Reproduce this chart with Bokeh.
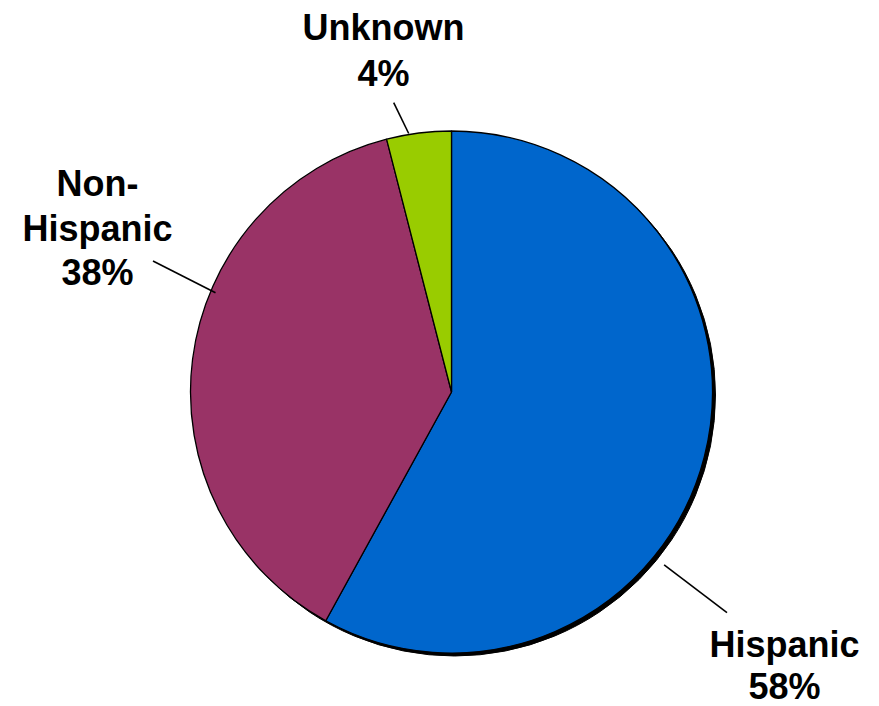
import math
from bokeh.plotting import figure
from bokeh.models import ColumnDataSource
from bokeh.core.properties import value
from bokeh.embed import file_html
from bokeh.resources import INLINE

categories = ["Hispanic", "Non-Hispanic", "Unknown"]
values = [58, 38, 4]
colors = ["#0066CC", "#993366", "#99CC00"]
label_lines = [["Hispanic", "58%"], ["Non-", "Hispanic", "38%"], ["Unknown", "4%"]]

W, H = 879, 706
def px(x):
    return x
def py(y):
    return H - y

cx, cy, R = px(451), py(391.5), 261

p = figure(width=W, height=H, x_range=(0, W), y_range=(0, H),
           output_backend="svg", toolbar_location=None, min_border=0)
p.axis.visible = False
p.grid.visible = False
p.outline_line_color = None

total = sum(values)
starts, ends = [], []
a = math.pi / 2
for v in values:
    e = a - v / total * 2 * math.pi
    starts.append(e)
    ends.append(a)
    a = e

src = ColumnDataSource(dict(start=starts, end=ends, color=colors, cat=categories))

# shadow
p.circle(x=[cx + 3], y=[cy - 3], radius=R, fill_color="black", line_color="black")
p.wedge(x=cx, y=cy, radius=R, start_angle="start", end_angle="end",
        fill_color="color", line_color="black", line_width=1.3, source=src)

# leader lines (polar layout: angle deg, radius start, angle deg, radius end)
leaders = [(-39.1, 274, -38.7, 353), (157.2, 256, 156.3, 326), (99.4, 262, 101.3, 295)]
for a1, r1, a2, r2 in leaders:
    x0 = cx + r1 * math.cos(math.radians(a1)); y0 = cy + r1 * math.sin(math.radians(a1))
    x1 = cx + r2 * math.cos(math.radians(a2)); y1 = cy + r2 * math.sin(math.radians(a2))
    p.line([x0, x1], [y0, y1], line_color="black", line_width=1.6)

# label layout: center x, first line center y, line spacing
label_pos = [(784, 644, 41.5), (97, 183, 44.5), (383, 27, 46)]
for lines, (lx, ly, dy) in zip(label_lines, label_pos):
    for i, t in enumerate(lines):
        p.text(x=[px(lx)], y=[py(ly + i * dy)], text=[t], text_align="center",
               text_baseline="middle", text_font=value("Liberation Sans"),
               text_font_style="bold", text_font_size="36px", text_color="black")

open("out.html", "w").write(file_html(p, INLINE))
